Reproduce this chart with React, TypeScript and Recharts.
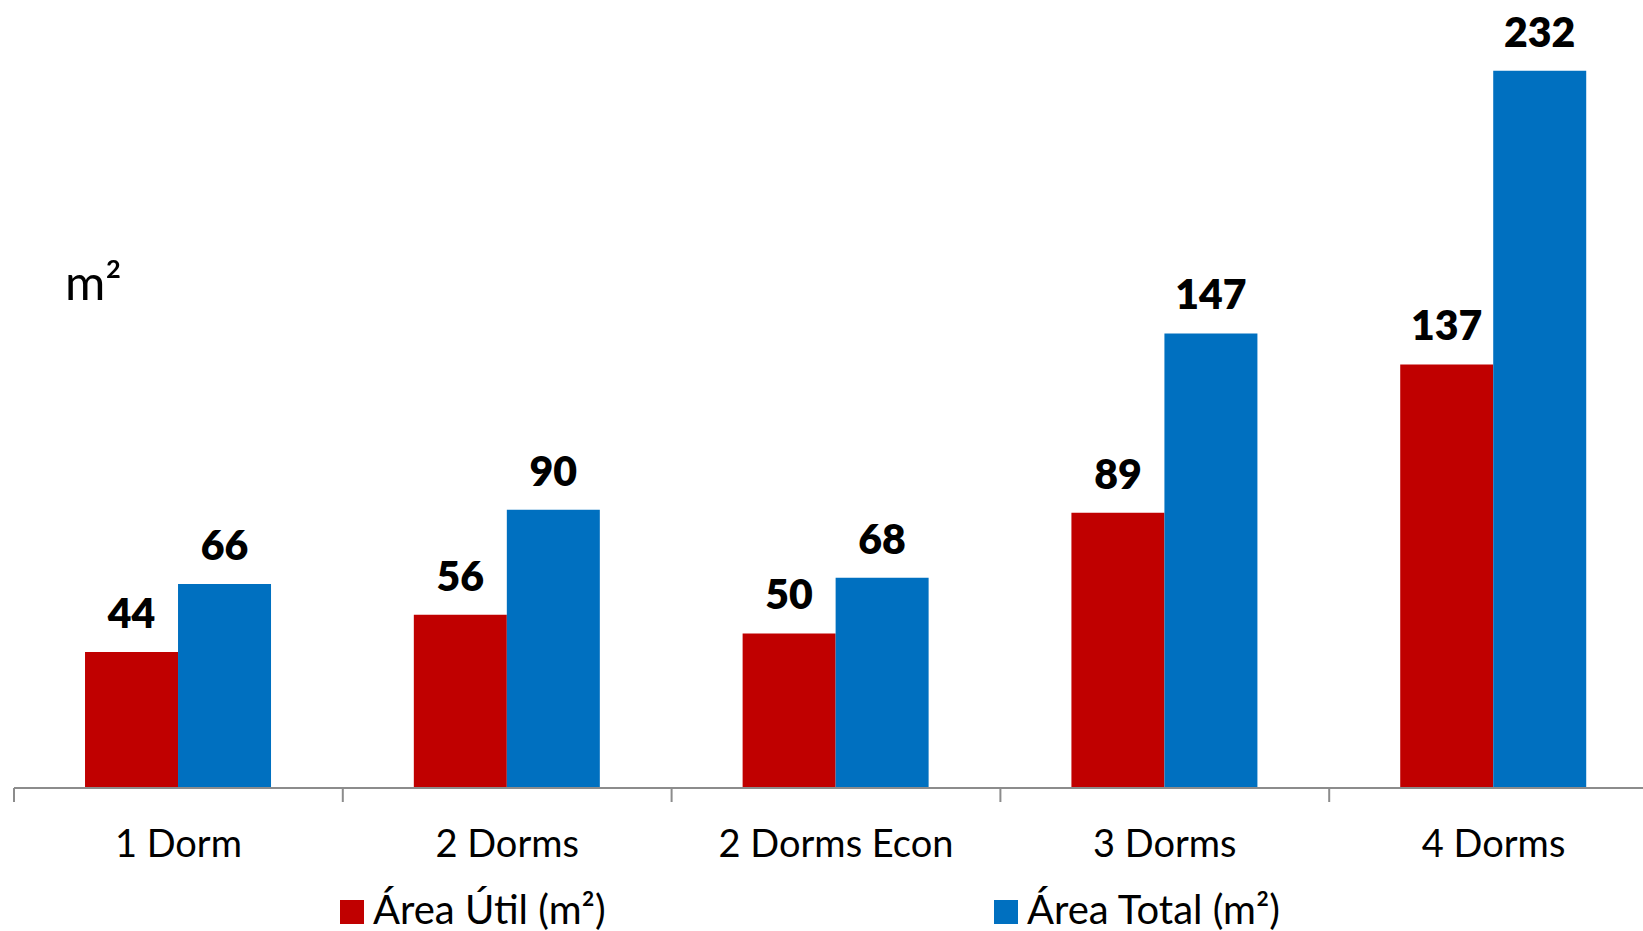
import React from "react";
import { BarChart, Bar, XAxis, YAxis, LabelList } from "recharts";

const categories = ["1 Dorm", "2 Dorms", "2 Dorms Econ", "3 Dorms", "4 Dorms"];
const areaUtil = [44, 56, 50, 89, 137];
const areaTotal = [66, 90, 68, 147, 232];
const seriesNames = ["Área Útil (m²)", "Área Total (m²)"];
const seriesColors = ["#C00000", "#0070C0"];
const yDomain = [0, 250];
const unitLabel = "m²";

const data = categories.map((c, i) => ({ name: c, util: areaUtil[i], total: areaTotal[i] }));

const W = 1660;
const H = 931;
const M = { top: 15, right: 2, left: 14, bottom: 0 };
const BAND = (W - M.left - M.right) / categories.length;
const FONT = "Lato, 'Open Sans', sans-serif";

const CatTick = (props: any) => {
  const { x, y, payload, index } = props;
  const left = x - BAND / 2;
  const right = x + BAND / 2;
  return (
    <g>
      <line x1={left} x2={left} y1={y} y2={y + 14} stroke="#8c8c8c" strokeWidth={2} />
      {index === categories.length - 1 && (
        <line x1={right} x2={right} y1={y} y2={y + 14} stroke="#8c8c8c" strokeWidth={2} />
      )}
      <text x={x} y={y + 69} textAnchor="middle" fontFamily={FONT} fontSize={38} fill="#000">
        {payload.value}
      </text>
    </g>
  );
};

export default function App() {
  return (
    <div style={{ position: "absolute", left: 0, top: 0, width: 1643, height: 931, overflow: "hidden", background: "#fff" }}>
      <BarChart width={W} height={H} data={data} margin={M} barGap={0} barCategoryGap="21.6%">
        <XAxis
          dataKey="name"
          height={143}
          tickLine={false}
          tickSize={0}
          tickMargin={0}
          axisLine={{ stroke: "#8c8c8c", strokeWidth: 2 }}
          tick={<CatTick />}
          interval={0}
        />
        <YAxis hide domain={yDomain} />
        <Bar dataKey="util" fill={seriesColors[0]} isAnimationActive={false}>
          <LabelList dataKey="util" position="top" offset={24} fontFamily={FONT} fontWeight={800} fontSize={41} fill="#000" />
        </Bar>
        <Bar dataKey="total" fill={seriesColors[1]} isAnimationActive={false}>
          <LabelList dataKey="total" position="top" offset={24} fontFamily={FONT} fontWeight={800} fontSize={41} fill="#000" />
        </Bar>
      </BarChart>
      <div style={{ position: "absolute", left: 65, top: 256, fontFamily: FONT, fontSize: 49, lineHeight: "50px", color: "#000" }}>
        {unitLabel}
      </div>
      {seriesNames.map((n, i) => (
        <div
          key={n}
          style={{
            position: "absolute",
            left: i === 0 ? 340 : 994,
            top: 889,
            display: "flex",
            alignItems: "flex-end",
            fontFamily: FONT,
            fontSize: 40,
            lineHeight: "40px",
            color: "#000",
            whiteSpace: "nowrap",
          }}
        >
          <span style={{ display: "inline-block", width: 24, height: 24, background: seriesColors[i], marginRight: 9, marginBottom: 5 }} />
          <span>{n}</span>
        </div>
      ))}
    </div>
  );
}
